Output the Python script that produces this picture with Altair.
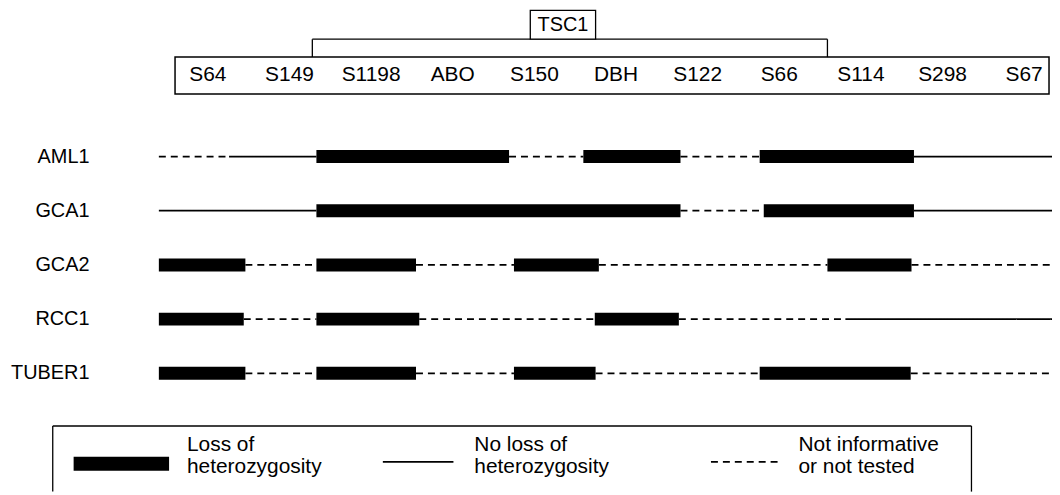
import altair as alt
import pandas as pd

# ---- data -------------------------------------------------------------
markers = ["S64", "S149", "S1198", "ABO", "S150", "DBH", "S122", "S66", "S114", "S298", "S67"]
marker_pos = list(range(len(markers)))          # markers evenly spaced (map units)

samples = ["AML1", "GCA1", "GCA2", "RCC1", "TUBER1"]

# segment boundaries (map units, marker index) and state of each segment
# L = loss of heterozygosity, S = no loss, N = not informative / not tested
aml1_breaks = [-0.60, 0.26, 1.33, 3.69, 4.60, 5.79, 6.76, 8.65, 10.37]
aml1_states = ["N", "S", "L", "N", "L", "N", "L", "S"]

gca1_breaks = [-0.60, 1.33, 5.79, 6.81, 8.65, 10.37]
gca1_states = ["S", "L", "N", "L", "S"]

gca2_breaks = [-0.60, 0.46, 1.33, 2.55, 3.75, 4.79, 7.59, 8.62, 10.37]
gca2_states = ["L", "N", "L", "N", "L", "N", "L", "N"]

rcc1_breaks = [-0.60, 0.44, 1.33, 2.59, 4.74, 5.77, 7.81, 10.37]
rcc1_states = ["L", "N", "L", "N", "L", "N", "S"]

tuber1_breaks = [-0.60, 0.46, 1.33, 2.55, 3.75, 4.75, 6.76, 8.61, 10.37]
tuber1_states = ["L", "N", "L", "N", "L", "N", "L", "N"]

tsc1_start, tsc1_end = 1.28, 7.59               # TSC1 candidate region
tsc1_label = "TSC1"
tsc1_box = [3.95, 4.75]

legend_labels = ["Loss of\nheterozygosity", "No loss of\nheterozygosity", "Not informative\nor not tested"]

# ---- build tables -----------------------------------------------------
rows = []
for name, br, st in [("AML1", aml1_breaks, aml1_states), ("GCA1", gca1_breaks, gca1_states),
                     ("GCA2", gca2_breaks, gca2_states), ("RCC1", rcc1_breaks, rcc1_states),
                     ("TUBER1", tuber1_breaks, tuber1_states)]:
    for i, s in enumerate(st):
        rows.append({"sample": name, "start": br[i], "end": br[i + 1], "state": s})
seg = pd.DataFrame(rows)
mk = pd.DataFrame({"marker": markers, "pos": marker_pos})
smp = pd.DataFrame({"sample": samples})
tsc = pd.DataFrame({"start": [tsc1_start], "end": [tsc1_end], "bl": [tsc1_box[0]],
                    "br": [tsc1_box[1]], "mid": [(tsc1_box[0] + tsc1_box[1]) / 2], "label": [tsc1_label]})

W, H = 1050, 485
FONT = "Liberation Sans"
xs = alt.Scale(domain=[-2.448, 10.341], nice=False, zero=False)
ys = alt.Scale(type="point", domain=samples, range=[148, 366], padding=0)
one = alt.Data(values=[{}])

X = lambda f: alt.X(f, type="quantitative", scale=xs, axis=None)
Y = alt.Y("sample:N", scale=ys, axis=None)

lines = alt.Chart(seg).transform_filter("datum.state != 'L'").mark_rule(strokeCap="butt", color="black").encode(
    x=X("start"), x2="end", y=Y,
    strokeDash=alt.StrokeDash("state:N", scale=alt.Scale(domain=["S", "N"], range=[[1, 0], [7, 5]]), legend=None),
    strokeWidth=alt.value(1.8),
)
bars = alt.Chart(seg).transform_filter("datum.state == 'L'").mark_rule(strokeCap="butt", color="black", strokeWidth=13).encode(
    x=X("start"), x2="end", y=Y,
)
row_labels = alt.Chart(smp).mark_text(align="right", baseline="middle", fontSize=20, font=FONT, color="black").encode(
    y=Y, x=alt.value(82), text="sample:N")

marker_box = alt.Chart(one).mark_rect(fill="white", stroke="black", strokeWidth=1.5).encode(
    x=alt.value(168), x2=alt.value(1047), y=alt.value(48), y2=alt.value(85))
marker_text = alt.Chart(mk).mark_text(baseline="middle", fontSize=21, font=FONT, color="black").encode(
    x=X("pos"), y=alt.value(66.5), text="marker:N")

br_h = alt.Chart(tsc).mark_rule(color="black", strokeWidth=1.3).encode(x=X("start"), x2="end", y=alt.value(30))
br_l = alt.Chart(tsc).mark_rule(color="black", strokeWidth=1.3).encode(x=X("start"), y=alt.value(30), y2=alt.value(48))
br_r = alt.Chart(tsc).mark_rule(color="black", strokeWidth=1.3).encode(x=X("end"), y=alt.value(30), y2=alt.value(48))
tsc_box = alt.Chart(tsc).mark_rect(fill="white", stroke="black", strokeWidth=1.3).encode(
    x=X("bl"), x2="br", y=alt.value(1), y2=alt.value(30))
tsc_text = alt.Chart(tsc).mark_text(baseline="middle", fontSize=20, font=FONT, color="black").encode(
    x=X("mid"), y=alt.value(16), text="label:N")

# ---- legend box -------------------------------------------------------
lg = [
    alt.Chart(one).mark_rule(color="black", strokeWidth=1.3).encode(x=alt.value(45), x2=alt.value(969), y=alt.value(419)),
    alt.Chart(one).mark_rule(color="black", strokeWidth=1.3).encode(x=alt.value(45), y=alt.value(419), y2=alt.value(H)),
    alt.Chart(one).mark_rule(color="black", strokeWidth=1.3).encode(x=alt.value(969), y=alt.value(419), y2=alt.value(H)),
    alt.Chart(one).mark_rule(color="black", strokeWidth=14, strokeCap="butt").encode(x=alt.value(66), x2=alt.value(162), y=alt.value(457)),
    alt.Chart(one).mark_rule(color="black", strokeWidth=1.8).encode(x=alt.value(377), x2=alt.value(448), y=alt.value(455)),
    alt.Chart(one).mark_rule(color="black", strokeWidth=1.8, strokeDash=[7, 5]).encode(x=alt.value(707), x2=alt.value(777), y=alt.value(455)),
]
for lab, lx in zip(legend_labels, [180, 469, 795]):
    lg.append(alt.Chart(one).mark_text(align="left", baseline="alphabetic", fontSize=21, font=FONT, color="black",
                                       lineBreak="\n", lineHeight=22).encode(
        x=alt.value(lx), y=alt.value(444), text=alt.value(lab)))

chart = alt.layer(lines, bars, row_labels, marker_box, marker_text, br_h, br_l, br_r, tsc_box, tsc_text, *lg).properties(
    width=W, height=H, padding=0, autosize=alt.AutoSizeParams(type="none"), background="white"
).configure_view(stroke=None)

chart.save("out.html", embed_options={"renderer": "svg", "actions": False})
